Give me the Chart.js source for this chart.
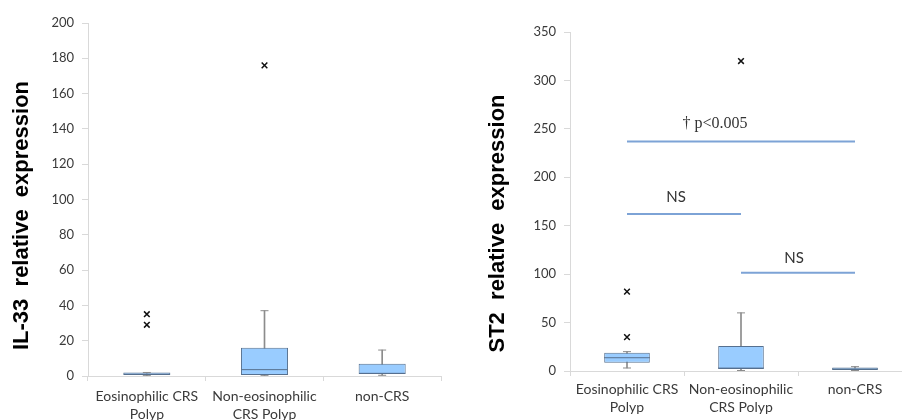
<!DOCTYPE html>
<html>
<head>
<meta charset="utf-8">
<script src="https://cdn.jsdelivr.net/npm/chart.js@4"></script>
<style>
  html, body { margin: 0; padding: 0; background: #fff; overflow: hidden; width: 902px; height: 420px; }
  canvas { position: absolute; top: 0; }
  #il33 { left: 0; }
  #st2 { left: 450px; }
</style>
</head>
<body>
<canvas id="il33" width="450" height="420"></canvas>
<canvas id="st2" width="470" height="420"></canvas>
<script>
var groups = ['Eosinophilic CRS Polyp', 'Non-eosinophilic CRS Polyp', 'non-CRS'];
var groupLines = [['Eosinophilic CRS', 'Polyp'], ['Non-eosinophilic', 'CRS Polyp'], ['non-CRS']];

// IL-33 box plot values
var il33Min = [0.2, 0.2, 0.4];
var il33Q1 = [0.5, 0.5, 1.1];
var il33Median = [1.0, 3.6, 1.5];
var il33Q3 = [2.0, 16, 7.0];
var il33Max = [2.0, 37, 14.7];
var il33Outliers = [[35, 29], [176], []];

// ST2 box plot values
var st2Min = [3.1, 0.5, 0.5];
var st2Q1 = [8.6, 2.0, 1.0];
var st2Median = [13.7, 3.0, 2.0];
var st2Q3 = [18.9, 25.8, 3.5];
var st2Max = [20, 60, 4.5];
var st2Outliers = [[82, 35], [320], []];

// comparison brackets on the ST2 panel
var sigFrom = [0, 0, 1];
var sigTo = [2, 1, 2];
var sigLevel = [237, 162, 101.5];
var sigText = ['\u2020 p<0.005', 'NS', 'NS'];

var boxFill = '#99ccff';
var boxEdge = '#56708f';
var whiskerColor = '#8c8c8c';
var axisGrey = '#d9d9d9';
var tickText = '#3a3a3a';

function boxDatasets(mins, q1, med, q3, maxs, outliers) {
  var points = [];
  outliers.forEach(function (vals, i) {
    vals.forEach(function (v) { points.push({ x: groups[i], y: v }); });
  });
  return [
    { type: 'bar', data: mins.map(function (m, i) { return [m, maxs[i]]; }),
      backgroundColor: whiskerColor, barThickness: 1, grouped: false, order: 6 },
    { type: 'bar', data: q1.map(function (v, i) { return [v, q3[i]]; }),
      backgroundColor: boxFill, borderColor: boxEdge, borderWidth: 1, borderSkipped: false,
      barPercentage: 0.4, categoryPercentage: 1, grouped: false, order: 5 },
    { type: 'line', data: med, showLine: false, pointStyle: 'line', pointRadius: 23,
      borderColor: boxEdge, borderWidth: 1, order: 4 },
    { type: 'line', data: maxs, showLine: false, pointStyle: 'line', pointRadius: 4,
      borderColor: whiskerColor, borderWidth: 1, order: 3 },
    { type: 'line', data: mins, showLine: false, pointStyle: 'line', pointRadius: 4,
      borderColor: whiskerColor, borderWidth: 1, order: 3 },
    { type: 'line', data: points, showLine: false, pointStyle: 'crossRot', pointRadius: 4,
      borderColor: '#111', borderWidth: 1.5, order: 1 }
  ];
}

function bracketDatasets() {
  return sigLevel.map(function (level, k) {
    return {
      type: 'line',
      data: groups.map(function (g, i) { return i >= sigFrom[k] && i <= sigTo[k] ? level : null; }),
      borderColor: '#7da3d6', borderWidth: 2, pointRadius: 0, order: 2
    };
  });
}

// rotated axis titles and bracket captions
var panelText = {
  id: 'panelText',
  afterDraw: function (chart) {
    var o = chart.options.plugins.panelText;
    var ctx = chart.ctx, a = chart.chartArea;
    ctx.save();
    ctx.fillStyle = '#000';
    ctx.font = 'bold 22px "Liberation Sans"';
    ctx.textAlign = 'center';
    ctx.textBaseline = 'middle';
    ctx.translate(a.left + o.titleDx, (a.top + a.bottom) / 2 + o.titleDy);
    ctx.rotate(-Math.PI / 2);
    ctx.fillText(o.title, 0, 0);
    ctx.restore();
    if (!o.brackets) return;
    var xs = chart.scales.x, ys = chart.scales.y;
    ctx.save();
    ctx.fillStyle = '#333';
    ctx.textAlign = 'center';
    ctx.textBaseline = 'middle';
    sigText.forEach(function (t, k) {
      var x = (xs.getPixelForValue(sigFrom[k]) + xs.getPixelForValue(sigTo[k])) / 2 + o.brackets.shift[k];
      var y = ys.getPixelForValue(sigLevel[k]) - o.brackets.lift[k];
      ctx.font = o.brackets.font[k];
      ctx.fillText(t, x, y);
    });
    ctx.restore();
  }
};

function makeChart(id, datasets, yMax, yStep, box, text) {
  return new Chart(document.getElementById(id), {
    data: { labels: groups, datasets: datasets },
    options: {
      responsive: false,
      animation: false,
      devicePixelRatio: 1,
      layout: { autoPadding: false, padding: { left: 0, top: box.top, right: box.right, bottom: 0 } },
      plugins: { legend: { display: false }, tooltip: { enabled: false }, panelText: text },
      scales: {
        x: {
          type: 'category',
          offset: true,
          grid: { offset: true, drawOnChartArea: false, tickLength: 5, color: axisGrey },
          border: { color: axisGrey },
          ticks: {
            autoSkip: false, maxRotation: 0, padding: box.labelGap, color: tickText,
            font: { family: 'Lato', size: 14, lineHeight: 1.28 },
            callback: function (v) { return groupLines[v]; }
          },
          afterFit: function (s) { s.height = box.xHeight; }
        },
        y: {
          min: 0, max: yMax,
          grid: { drawOnChartArea: false, tickLength: 6, color: axisGrey },
          border: { color: axisGrey },
          ticks: { stepSize: yStep, padding: 8, color: tickText, font: { family: 'Lato', size: 13 } },
          afterFit: function (s) { s.width = box.yWidth; }
        }
      }
    },
    plugins: [panelText]
  });
}

makeChart('il33',
  boxDatasets(il33Min, il33Q1, il33Median, il33Q3, il33Max, il33Outliers),
  200, 20,
  { top: 23, right: 9, xHeight: 44, yWidth: 88, labelGap: 7 },
  { title: 'IL-33  relative  expression', titleDx: -66, titleDy: 16 });

makeChart('st2',
  boxDatasets(st2Min, st2Q1, st2Median, st2Q3, st2Max, st2Outliers).concat(bracketDatasets()),
  350, 50,
  { top: 32, right: 8, xHeight: 49, yWidth: 120, labelGap: 5 },
  { title: 'ST2  relative  expression', titleDx: -72, titleDy: 22,
    brackets: { shift: [-26, -8, -4], lift: [18, 17, 15],
      font: ['16px "Liberation Serif"', '15px Lato', '15px Lato'] } });
</script>
</body>
</html>
